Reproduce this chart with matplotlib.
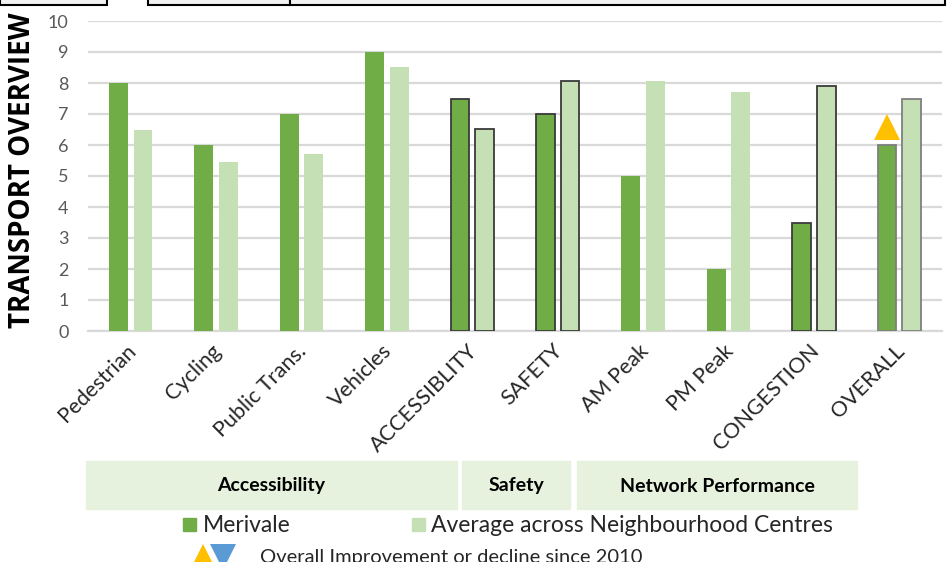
import matplotlib.pyplot as plt
import matplotlib.patches as mpatches
import matplotlib.transforms as mtransforms
import numpy as np

CATEGORIES = ["Pedestrian", "Cycling", "Public Trans.", "Vehicles", "ACCESSIBLITY",
              "SAFETY", "AM Peak", "PM Peak", "CONGESTION", "OVERALL"]
MERIVALE   = [8.0, 6.0, 7.0, 9.0, 7.5, 7.0, 5.0, 2.0, 3.5, 6.0]
AVERAGE    = [6.5, 5.45, 5.72, 8.52, 6.52, 8.08, 8.08, 7.7, 7.9, 7.5]
EDGE_STYLE = ["none", "none", "none", "none", "summary", "summary",
              "none", "none", "summary", "overall"]
GROUPS     = ["Accessibility", "Safety", "Network Performance"]
OVERALL_TREND = "up"

C_DARK  = "#70ad47"
C_LIGHT = "#c5e0b4"
C_GRID  = "#d9d9d9"
C_BOX   = "#e6f1de"
EDGES   = {"none": None, "summary": "#3a3a3a", "overall": "#7f7f7f"}

plt.rcParams["font.family"] = ["Lato", "DejaVu Sans"]

W, H = 950, 562
fig = plt.figure(figsize=(W / 100, H / 100), dpi=100)
ax = fig.add_axes([88 / W, 1 - 331 / H, (942 - 88) / W, 310 / H])

x = np.arange(len(CATEGORIES))
bw = 0.22
for i in range(len(CATEGORIES)):
    ec = EDGES[EDGE_STYLE[i]]
    lw = 1.3 if ec else 0
    ax.bar(x[i] - 0.143, MERIVALE[i], bw, color=C_DARK, edgecolor=ec or C_DARK,
           linewidth=lw, zorder=3)
    ax.bar(x[i] + 0.143, AVERAGE[i], bw, color=C_LIGHT, edgecolor=ec or C_LIGHT,
           linewidth=lw, zorder=3)

# trend marker on the overall score
tri = "^" if OVERALL_TREND == "up" else "v"
tri_c = "#ffc000" if OVERALL_TREND == "up" else "#5b9bd5"
ax.plot(x[-1] - 0.143, MERIVALE[-1] + 0.58, marker=tri, color=tri_c,
        markersize=19, markeredgewidth=0, zorder=4)

ax.set_xlim(-0.5, len(CATEGORIES) - 0.5)
ax.set_ylim(0, 10)
ax.set_yticks(range(0, 11))
ax.yaxis.grid(True, color=C_GRID, linewidth=1.6, zorder=0)
ax.set_axisbelow(True)
for s in ["top", "right", "left"]:
    ax.spines[s].set_visible(False)
ax.spines["bottom"].set_color(C_GRID)
ax.spines["bottom"].set_linewidth(1.6)
ax.tick_params(axis="both", length=0)
ax.tick_params(axis="y", labelsize=13, labelcolor="#595959", pad=14)
ax.set_xticks(x)
ax.set_xticklabels(CATEGORIES, rotation=45, ha="right", rotation_mode="anchor",
                   fontsize=15.5, color="#262626")
ax.tick_params(axis="x", pad=7)
shift = mtransforms.ScaledTranslation(-5 / 100, 0, fig.dpi_scale_trans)
for lab in ax.get_xticklabels():
    lab.set_transform(lab.get_transform() + shift)

fig.text(23 / W, 1 - 170 / H, "TRANSPORT OVERVIEW", rotation=90, ha="center", va="center",
         fontsize=20, fontweight="bold", color="black", family=["Open Sans", "DejaVu Sans"])

# group boxes below the axis
box_px = [(86, 457), (462, 570), (577, 857)]
for (x0, x1), name in zip(box_px, GROUPS):
    fig.patches.append(mpatches.Rectangle((x0 / W, 1 - 509 / H), (x1 - x0) / W, 48 / H,
                                          transform=fig.transFigure, color=C_BOX, zorder=0))
    fig.text((x0 + x1) / 2 / W, 1 - 486 / H, name, ha="center", va="center",
             fontsize=14, fontweight="bold", color="black")

# legend
fig.patches.append(mpatches.Rectangle((183 / W, 1 - 531 / H), 13 / W, 13 / H,
                                      transform=fig.transFigure, color=C_DARK))
fig.text(203 / W, 1 - 526 / H, "Merivale", ha="left", va="center", fontsize=16.5, color="#262626")
fig.patches.append(mpatches.Rectangle((412 / W, 1 - 531 / H), 13 / W, 13 / H,
                                      transform=fig.transFigure, color=C_LIGHT))
fig.text(431 / W, 1 - 526 / H, "Average across Neighbourhood Centres", ha="left", va="center",
         fontsize=16.5, color="#262626")
fig.lines.append(plt.Line2D([203 / W], [1 - 557 / H], marker="^", color="#ffc000",
                            markersize=19, markeredgewidth=0, transform=fig.transFigure))
fig.lines.append(plt.Line2D([223 / W], [1 - 557 / H], marker="v", color="#5b9bd5",
                            markersize=19, markeredgewidth=0, transform=fig.transFigure))
fig.text(260 / W, 1 - 558 / H, "Overall Improvement or decline since 2010", ha="left",
         va="center", fontsize=14.5, color="#262626")

# cut-off boxes along the top edge
for x0, x1 in [(0, 107), (148, 290), (290, 945)]:
    fig.patches.append(mpatches.Rectangle((x0 / W, 1 - 5 / H), (x1 - x0) / W, 20 / H,
                                          transform=fig.transFigure, facecolor="#f2f2f2",
                                          edgecolor="black", linewidth=1.5))

fig.savefig("out.png", dpi=100)
